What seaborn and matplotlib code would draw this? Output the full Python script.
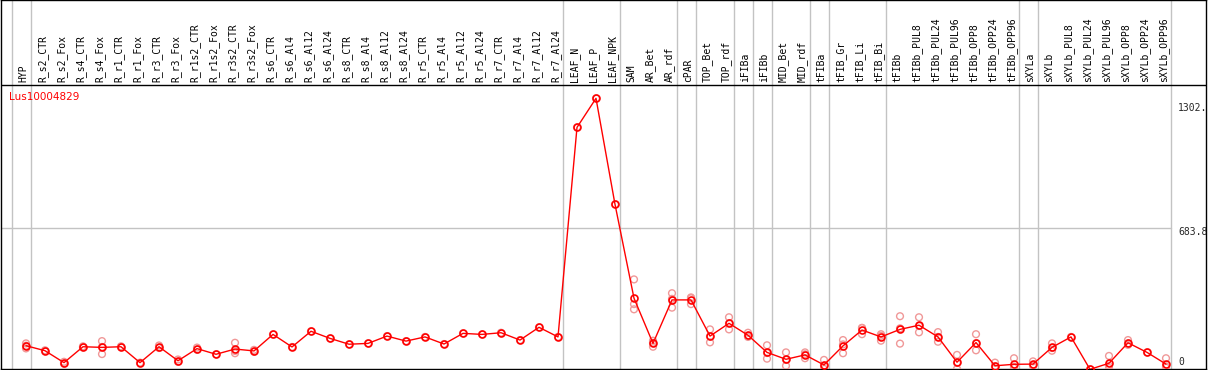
import numpy as np
import pandas as pd
import matplotlib
matplotlib.use("Agg")
import matplotlib.pyplot as plt
import matplotlib.transforms as mtransforms
import seaborn as sns

# ---------------- data ----------------
gene = "Lus10004829"
samples = ["HYP", "R_s2_CTR", "R_s2_Fox", "R_s4_CTR", "R_s4_Fox", "R_r1_CTR", "R_r1_Fox",
           "R_r3_CTR", "R_r3_Fox", "R_r1s2_CTR", "R_r1s2_Fox", "R_r3s2_CTR", "R_r3s2_Fox",
           "R_s6_CTR", "R_s6_Al4", "R_s6_Al12", "R_s6_Al24", "R_s8_CTR", "R_s8_Al4",
           "R_s8_Al12", "R_s8_Al24", "R_r5_CTR", "R_r5_Al4", "R_r5_Al12", "R_r5_Al24",
           "R_r7_CTR", "R_r7_Al4", "R_r7_Al12", "R_r7_Al24", "LEAF_N", "LEAF_P", "LEAF_NPK",
           "SAM", "AR_Bet", "AR_rdf", "cPAR", "TOP_Bet", "TOP_rdf", "iFIBa", "iFIBb",
           "MID_Bet", "MID_rdf", "tFIBa", "tFIB_Gr", "tFIB_Li", "tFIB_Bi", "tFIBb",
           "tFIBb_PUL8", "tFIBb_PUL24", "tFIBb_PUL96", "tFIBb_OPP8", "tFIBb_OPP24",
           "tFIBb_OPP96", "sXYLa", "sXYLb", "sXYLb_PUL8", "sXYLb_PUL24", "sXYLb_PUL96",
           "sXYLb_OPP8", "sXYLb_OPP24", "sXYLb_OPP96"]

means = [121, 97, 40, 116, 113, 116, 40, 116, 49, 107, 80, 105, 96,
         175, 115, 190, 156, 128, 132, 167, 143, 163, 129, 180, 175,
         183, 148, 209, 163, 1165, 1304, 797,
         348, 132, 340, 340, 167, 228, 171, 89,
         56, 77, 29, 120, 196, 163, 199,
         219, 163, 42, 136, 25, 32,
         33, 113, 163, 8, 37, 135, 89, 33]

replicates = [[132, 121, 108], [99, 95], [44, 35], [118, 113], [143, 115, 81], [118, 114], [40],
              [122, 110], [55, 44], [112, 102], [80], [135, 96, 85], [101, 92],
              [175], [115], [190], [156], [128], [132], [167], [143], [163], [129], [180], [175],
              [183], [148], [209], [163], [1165], [1304], [797],
              [438, 320, 295], [145, 135, 116], [372, 345, 303], [352, 348, 320],
              [199, 165, 137], [257, 228, 199], [183, 168, 163], [123, 86, 59],
              [89, 54, 25], [89, 80, 61], [53, 25, 10], [148, 127, 85], [176, 206, 206],
              [176, 168, 145], [262, 204, 131],
              [257, 215, 185], [186, 163, 140], [77, 39, 10], [176, 133, 99], [40, 22, 13],
              [61, 20, 15],
              [46, 28, 25], [132, 110, 97], [163], [8], [72, 25, 14], [148, 132, 125], [89],
              [61, 22, 16]]

# sample index after which a group ends
group_ends = [-1, 0, 28, 31, 34, 35, 37, 38, 39, 41, 42, 45, 52, 53, 60]

scale_labels = ["1302.", "683.8", "0"]
mid_value = 683.8

# ---------------- figure ----------------
W, H, DPI = 1209, 370, 100
sns.set_style("white")
plt.rcParams["font.family"] = ["DejaVu Sans"]

fig = plt.figure(figsize=(W / DPI, H / DPI), dpi=DPI)
fig.patch.set_facecolor("white")

# axes box in pixels
px_left, px_right, px_top, px_bottom = 1, 1206, 0, 369
ax = fig.add_axes([px_left / W, (H - px_bottom) / H,
                   (px_right - px_left) / W, (px_bottom - px_top) / H])

# x: sample i at pixel 26 + 19*i ; y: value 0 at pixel 371, 0.2091 px per unit
x0, dx = 26.0, 19.0
y0, sy = 371.0, 0.2091
ax.set_xlim((px_left - x0) / dx, (px_right - x0) / dx)
ax.set_ylim((y0 - px_bottom) / sy, (y0 - px_top) / sy)
header_val = (y0 - 85) / sy

n = len(samples)
xs = np.arange(n)

rep_df = pd.DataFrame([(i, v) for i, reps in enumerate(replicates) for v in reps],
                      columns=["idx", "value"])
mean_df = pd.DataFrame({"idx": xs, "value": means})

# separators
for k in group_ends:
    ax.axvline(k + 5 / dx, color="#c3c3c3", lw=1.0, zorder=1)
ax.plot([(px_left - x0) / dx, group_ends[-1] + 5 / dx], [mid_value, mid_value],
        color="#c3c3c3", lw=1.0, zorder=1)
ax.axhline(header_val, color="black", lw=1.0, zorder=2)

sns.scatterplot(data=rep_df, x="idx", y="value", ax=ax, marker="o", s=24,
                facecolor="none", edgecolor="#f09898", linewidth=1.0, zorder=3, legend=False)
sns.lineplot(data=mean_df, x="idx", y="value", ax=ax, color="#ff0000", lw=1.0,
             marker="o", markersize=5.0, markerfacecolor="none", markeredgecolor="#ff0000",
             markeredgewidth=1.2, zorder=4, legend=False)

# header labels
trans = mtransforms.blended_transform_factory(ax.transData, ax.transAxes)
lab_y = (px_bottom - 82) / (px_bottom - px_top)
for i, name in enumerate(samples):
    ax.text(i - 2.5 / dx, lab_y, name, rotation=90, ha="center", va="bottom",
            fontsize=7, family="DejaVu Sans Mono", transform=trans, color="black")

# gene name
def ay(py):
    return (px_bottom - py) / (px_bottom - px_top)

def axx(px):
    return (px - px_left) / (px_right - px_left)

ax.text(axx(9), ay(97), gene, color="#ff0000", fontsize=7.5, ha="left", va="center",
        transform=ax.transAxes)

# scale labels on the right
for lab, py in zip(scale_labels, [108, 232, 362]):
    ax.text(axx(1178), ay(py), lab, fontsize=7, family="DejaVu Sans Mono", ha="left",
            va="center", transform=ax.transAxes, clip_on=True)

ax.set_xlabel("")
ax.set_ylabel("")
ax.set_xticks([])
ax.set_yticks([])
for sp in ax.spines.values():
    sp.set_visible(True)
    sp.set_color("black")
    sp.set_linewidth(1.0)

fig.savefig("out.png", dpi=DPI, facecolor="white")
